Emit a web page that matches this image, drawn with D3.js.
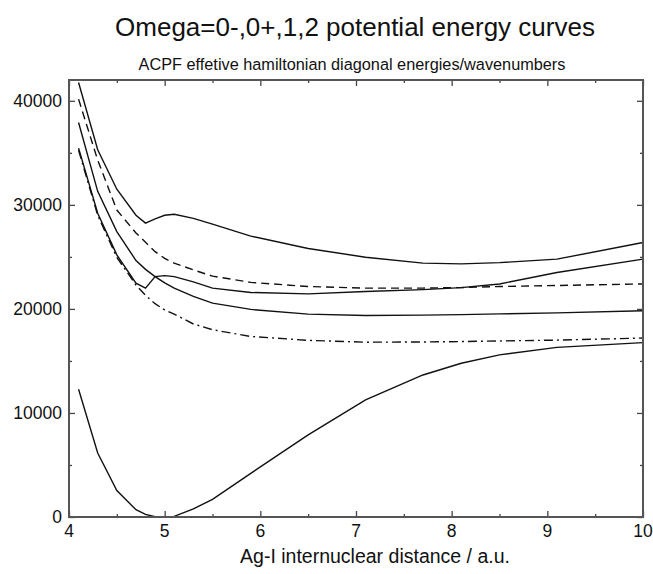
<!DOCTYPE html>
<html>
<head>
<meta charset="utf-8">
<script src="https://cdn.jsdelivr.net/npm/d3@7"></script>
<style>
  body { margin: 0; background: #fff; }
  text { font-family: "Liberation Sans", Arial, sans-serif; fill: #111; }
</style>
</head>
<body>
<div id="chart"></div>
<script>
// Internuclear distances (a.u.) shared by all curves
var distances = [4.1, 4.3, 4.5, 4.7, 4.8, 4.9, 5.0, 5.1, 5.3, 5.5, 5.9, 6.5, 7.1, 7.7, 8.1, 8.5, 9.1, 10];

// Diagonal energies / wavenumbers
var upperSolid = [41760, 35300, 31500, 29000, 28250, 28650, 29000, 29100, 28700, 28150, 27000, 25800, 24970, 24400, 24330, 24450, 24780, 26380];
var upperDashed = [40160, 34300, 29500, 27300, 26400, 25500, 24850, 24400, 23750, 23150, 22550, 22150, 22000, 22000, 22050, 22150, 22250, 22400];
var kinkedSolid = [35450, 29200, 25190, 22470, 21990, 23110, 23200, 23100, 22600, 22000, 21580, 21440, 21670, 21850, 22050, 22400, 23500, 24780];
var middleSolid = [37910, 31300, 27430, 24650, 23800, 23100, 22500, 21990, 21200, 20550, 19950, 19500, 19370, 19400, 19450, 19520, 19620, 19820];
var dashDot = [35250, 29000, 24950, 22300, 21300, 20500, 19900, 19500, 18550, 18000, 17350, 16980, 16800, 16820, 16860, 16920, 17000, 17200];
var groundState = [12280, 6150, 2550, 700, 250, 30, 0, 60, 780, 1700, 4200, 7900, 11250, 13650, 14780, 15580, 16300, 16760];

var xTicks = [4, 5, 6, 7, 8, 9, 10];
var yTicks = [0, 10000, 20000, 30000, 40000];

var series = [
  {values: upperSolid, dash: null},
  {values: upperDashed, dash: "8,5"},
  {values: kinkedSolid, dash: null},
  {values: middleSolid, dash: null},
  {values: dashDot, dash: "9,4,2,4"},
  {values: groundState, dash: null}
];

var margin = {top: 80, right: 10, bottom: 57, left: 69},
    width = 653 - margin.left - margin.right,
    height = 574 - margin.top - margin.bottom;

var svg = d3.select("#chart").append("svg")
    .attr("width", 653)
    .attr("height", 574);

var g = svg.append("g")
    .attr("transform", "translate(" + margin.left + "," + margin.top + ")");

var x = d3.scaleLinear().domain([4, 10]).range([0, width]);
var y = d3.scaleLinear().domain([0, 42000]).range([height, 0]);

// Titles
svg.append("text")
    .attr("x", 355)
    .attr("y", 36)
    .style("text-anchor", "middle")
    .style("font-size", "26px")
    .text("Omega=0-,0+,1,2 potential energy curves");

svg.append("text")
    .attr("x", 352)
    .attr("y", 70)
    .style("text-anchor", "middle")
    .style("font-size", "16.3px")
    .text("ACPF effetive hamiltonian diagonal energies/wavenumbers");

// Curves
var line = d3.line()
    .x(function(d, i) { return x(distances[i]); })
    .y(function(d) { return y(d); });

g.selectAll(".curve")
    .data(series)
  .enter().append("path")
    .attr("class", "curve")
    .attr("d", function(d) { return line(d.values); })
    .attr("fill", "none")
    .attr("stroke", "#111")
    .attr("stroke-width", 1.4)
    .attr("stroke-dasharray", function(d) { return d.dash; });

// Inward ticks on all four sides
var xMinor = d3.range(4.5, 10, 1);
var yMinor = d3.range(5000, 42000, 10000);

function tickAxis(axisFn, scale, values, size) {
  return axisFn(scale).tickValues(values).tickSizeInner(size).tickSizeOuter(0).tickFormat("");
}

// bottom
g.append("g").attr("transform", "translate(0," + height + ")")
    .call(tickAxis(d3.axisTop, x, xTicks, 6));
g.append("g").attr("transform", "translate(0," + height + ")")
    .call(tickAxis(d3.axisTop, x, xMinor, 3));
// top
g.append("g").call(tickAxis(d3.axisBottom, x, xTicks, 6));
g.append("g").call(tickAxis(d3.axisBottom, x, xMinor, 3));
// left
g.append("g").call(tickAxis(d3.axisRight, y, yTicks, 6));
g.append("g").call(tickAxis(d3.axisRight, y, yMinor, 3));
// right
g.append("g").attr("transform", "translate(" + width + ",0)")
    .call(tickAxis(d3.axisLeft, y, yTicks, 6));
g.append("g").attr("transform", "translate(" + width + ",0)")
    .call(tickAxis(d3.axisLeft, y, yMinor, 3));

g.selectAll(".domain").remove();
g.selectAll(".tick line").attr("stroke", "#444").attr("stroke-width", 1.3);

// Frame
g.append("rect")
    .attr("width", width)
    .attr("height", height)
    .attr("fill", "none")
    .attr("stroke", "#555")
    .attr("stroke-width", 2);

// Tick labels
g.selectAll(".xlabel")
    .data(xTicks)
  .enter().append("text")
    .attr("class", "xlabel")
    .attr("x", function(d) { return x(d); })
    .attr("y", height + 20)
    .style("text-anchor", "middle")
    .style("font-size", "17.5px")
    .text(function(d) { return d; });

g.selectAll(".ylabel")
    .data(yTicks)
  .enter().append("text")
    .attr("class", "ylabel")
    .attr("x", -7)
    .attr("y", function(d) { return y(d); })
    .attr("dy", "0.35em")
    .style("text-anchor", "end")
    .style("font-size", "17.5px")
    .text(function(d) { return d; });

// X axis title
svg.append("text")
    .attr("x", 375)
    .attr("y", 563)
    .style("text-anchor", "middle")
    .style("font-size", "19.5px")
    .text("Ag-I internuclear distance / a.u.");
</script>
</body>
</html>
